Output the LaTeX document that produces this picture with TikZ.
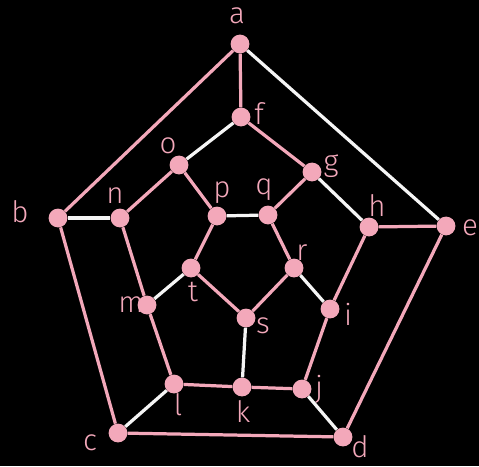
\documentclass[tikz,border=0pt]{standalone}
\usepackage{fontspec}
\setmainfont{Fira Sans Light}
\usepackage{xcolor}
\definecolor{rosepink}{RGB}{243,168,186}
\definecolor{chalkwhite}{RGB}{245,245,245}

\begin{document}
\begin{tikzpicture}[
  x=0.025cm, y=-0.025cm,
  vertex/.style={circle, fill=rosepink, inner sep=0pt, minimum size=0.47cm},
  tag/.style={text=rosepink, font=\fontsize{21}{24}\selectfont, inner sep=0pt},
  cycle/.style={draw=rosepink, line width=2.3pt},
  match/.style={draw=chalkwhite, line width=2.3pt}
]
  \fill[black] (0,0) rectangle (479,466);

  % outer pentagon
  \node[vertex] (a) at (240,44) {};
  \node[vertex] (b) at (58,218) {};
  \node[vertex] (c) at (118,433) {};
  \node[vertex] (d) at (343,437) {};
  \node[vertex] (e) at (446,226) {};
  % middle ring
  \node[vertex] (f) at (241,117) {};
  \node[vertex] (o) at (179,165) {};
  \node[vertex] (g) at (312,172) {};
  \node[vertex] (n) at (120,218) {};
  \node[vertex] (h) at (369,227) {};
  \node[vertex] (m) at (147,305) {};
  \node[vertex] (i) at (330,309) {};
  \node[vertex] (l) at (174,384) {};
  \node[vertex] (k) at (242,387) {};
  \node[vertex] (j) at (302,389) {};
  % inner pentagon
  \node[vertex] (p) at (217,216) {};
  \node[vertex] (q) at (268,215) {};
  \node[vertex] (r) at (294,268) {};
  \node[vertex] (s) at (246,318) {};
  \node[vertex] (t) at (191,268) {};

  % labels
  \node[tag] (la) at (237,16) {a};
  \node[tag] (lb) at (20,212) {b};
  \node[tag] (lc) at (90,443) {c};
  \node[tag] (ld) at (360,447) {d};
  \node[tag] (le) at (470,228) {e};
  \node[tag] (lf) at (259,114) {f};
  \node[tag] (lg) at (331,166) {g};
  \node[tag] (lh) at (377,206) {h};
  \node[tag] (li) at (348,314) {i};
  \node[tag] (lj) at (319,389) {j};
  \node[tag] (lk) at (243,412) {k};
  \node[tag] (ll) at (178,405) {l};
  \node[tag] (lm) at (131,305) {m};
  \node[tag] (ln) at (115,196) {n};
  \node[tag] (lo) at (168,146) {o};
  \node[tag] (lp) at (222,193) {p};
  \node[tag] (lq) at (264,190) {q};
  \node[tag] (lr) at (302,253) {r};
  \node[tag] (ls) at (263,326) {s};
  \node[tag] (lt) at (193,292) {t};

  % white matching
  \draw[match] (a) -- (e);
  \draw[match] (f) -- (o);
  \draw[match] (b) -- (n);
  \draw[match] (g) -- (h);
  \draw[match] (p) -- (q);
  \draw[match] (t) -- (m);
  \draw[match] (r) -- (i);
  \draw[match] (s) -- (k);
  \draw[match] (l) -- (c);
  \draw[match] (j) -- (d);
  % pink cycle
  \draw[cycle] (a) -- (f);
  \draw[cycle] (f) -- (g);
  \draw[cycle] (g) -- (q);
  \draw[cycle] (q) -- (r);
  \draw[cycle] (r) -- (s);
  \draw[cycle] (s) -- (t);
  \draw[cycle] (t) -- (p);
  \draw[cycle] (p) -- (o);
  \draw[cycle] (o) -- (n);
  \draw[cycle] (n) -- (m);
  \draw[cycle] (m) -- (l);
  \draw[cycle] (l) -- (k);
  \draw[cycle] (k) -- (j);
  \draw[cycle] (j) -- (i);
  \draw[cycle] (i) -- (h);
  \draw[cycle] (h) -- (e);
  \draw[cycle] (e) -- (d);
  \draw[cycle] (d) -- (c);
  \draw[cycle] (c) -- (b);
  \draw[cycle] (b) -- (a);
\end{tikzpicture}
\end{document}
